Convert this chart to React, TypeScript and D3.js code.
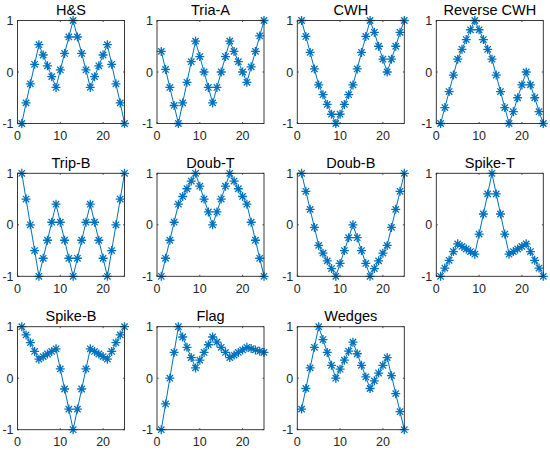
import React from "react";
import * as d3 from "d3";

const titles = ["H&S", "Tria-A", "CWH", "Reverse CWH", "Trip-B", "Doub-T", "Doub-B", "Spike-T", "Spike-B", "Flag", "Wedges"];

const hs = [-1, -0.6, -0.23, 0.15, 0.53, 0.33, 0.12, -0.09, -0.3, 0.04, 0.36, 0.68, 1, 0.68, 0.36, 0.04, -0.3, -0.09, 0.12, 0.33, 0.53, 0.15, -0.23, -0.6, -1];
const triaA = [0.4, 0.05, -0.3, -0.65, -1, -0.6, -0.2, 0.2, 0.6, 0.3, 0, -0.3, -0.6, -0.3, 0, 0.3, 0.6, 0.4, 0.2, 0, -0.2, 0.1, 0.4, 0.7, 1];
const cwh = [1, 0.69, 0.38, 0.06, -0.25, -0.44, -0.63, -0.82, -1, -0.82, -0.63, -0.44, -0.25, 0.06, 0.38, 0.69, 1, 0.77, 0.5, 0.25, 0, 0.25, 0.5, 0.77, 1];
const reverseCwh = [-1, -0.69, -0.38, -0.06, 0.25, 0.44, 0.63, 0.82, 1, 0.82, 0.63, 0.44, 0.25, -0.06, -0.38, -0.69, -1, -0.77, -0.5, -0.25, 0, -0.25, -0.5, -0.77, -1];
const tripB = [1, 0.5, 0, -0.5, -1, -0.65, -0.3, 0.05, 0.4, 0.05, -0.3, -0.65, -1, -0.65, -0.3, 0.05, 0.4, 0.05, -0.3, -0.65, -1, -0.5, 0, 0.5, 1];
const doubT = [-1, -0.65, -0.3, 0.05, 0.4, 0.55, 0.7, 0.85, 1, 0.75, 0.5, 0.25, 0, 0.25, 0.5, 0.75, 1, 0.85, 0.7, 0.55, 0.4, 0.05, -0.3, -0.65, -1];
const doubB = [1, 0.65, 0.3, -0.05, -0.4, -0.55, -0.7, -0.85, -1, -0.75, -0.5, -0.25, 0, -0.25, -0.5, -0.75, -1, -0.85, -0.7, -0.55, -0.4, -0.05, 0.3, 0.65, 1];
const spikeT = [-1, -0.84, -0.69, -0.52, -0.37, -0.42, -0.47, -0.52, -0.57, -0.18, 0.21, 0.6, 1, 0.6, 0.21, -0.18, -0.57, -0.52, -0.47, -0.42, -0.37, -0.52, -0.69, -0.84, -1];
const spikeB = [1, 0.84, 0.69, 0.52, 0.37, 0.42, 0.47, 0.52, 0.57, 0.18, -0.21, -0.6, -1, -0.6, -0.21, 0.18, 0.57, 0.52, 0.47, 0.42, 0.37, 0.52, 0.69, 0.84, 1];
const flag = [-1, -0.5, 0, 0.5, 1, 0.8, 0.6, 0.4, 0.2, 0.35, 0.5, 0.65, 0.8, 0.7, 0.6, 0.5, 0.4, 0.45, 0.5, 0.55, 0.6, 0.575, 0.55, 0.525, 0.5];
const wedges = [-0.6, -0.2, 0.2, 0.6, 1, 0.75, 0.5, 0.25, 0, 0.175, 0.35, 0.525, 0.7, 0.475, 0.25, 0.025, -0.2, -0.05, 0.1, 0.25, 0.4, 0.05, -0.3, -0.65, -1];

const series = [hs, triaA, cwh, reverseCwh, tripB, doubT, doubB, spikeT, spikeB, flag, wedges];

const xTicks = [0, 10, 20];
const yTicks = [-1, 0, 1];

const colLefts = [17.5, 157, 297.3, 436.3];
const rowTops = [20.5, 173.3, 326.7];
const PW = 107;
const PH = 103;
const BLUE = "#0072BD";
const AX = "#262626";
const FONT = "'Liberation Sans', Arial, Helvetica, sans-serif";

const markerPath = (r: number) => {
  const d = r * 0.7071;
  return `M${-r},0L${r},0M0,${-r}L0,${r}M${-d},${-d}L${d},${d}M${-d},${d}L${d},${-d}`;
};

function Panel({ idx }: { idx: number }) {
  const col = idx % 4;
  const row = Math.floor(idx / 4);
  const x0 = colLefts[col];
  const y0 = rowTops[row];
  const data = series[idx];
  const x = d3.scaleLinear().domain([0, 25]).range([0, PW]);
  const y = d3.scaleLinear().domain([-1, 1]).range([PH, 0]);
  const line = d3
    .line<number>()
    .x((_, i) => x(i + 1))
    .y((v) => y(v));
  const tl = 1.5;
  const mp = markerPath(4.5);
  return (
    <g transform={`translate(${x0},${y0})`}>
      <text x={PW / 2} y={-5.5} textAnchor="middle" fontSize={14.5} fontFamily={FONT} fill="#000">
        {titles[idx]}
      </text>
      {xTicks.map((t) => (
        <g key={"x" + t}>
          <line x1={x(t)} x2={x(t)} y1={PH} y2={PH - tl} stroke={AX} strokeWidth={0.8} />
          <line x1={x(t)} x2={x(t)} y1={0} y2={tl} stroke={AX} strokeWidth={0.8} />
          <text x={x(t)} y={PH + 16.7} textAnchor="middle" fontSize={12.5} fontFamily={FONT} fill={AX}>
            {t}
          </text>
        </g>
      ))}
      {yTicks.map((t) => (
        <g key={"y" + t}>
          <line x1={0} x2={tl} y1={y(t)} y2={y(t)} stroke={AX} strokeWidth={0.8} />
          <line x1={PW} x2={PW - tl} y1={y(t)} y2={y(t)} stroke={AX} strokeWidth={0.8} />
          <text x={-4} y={y(t)} dy="0.36em" textAnchor="end" fontSize={12.5} fontFamily={FONT} fill={AX}>
            {t}
          </text>
        </g>
      ))}
      <path d={line(data) || ""} fill="none" stroke={BLUE} strokeWidth={1} />
      {data.map((v, i) => (
        <path key={i} d={mp} transform={`translate(${x(i + 1)},${y(v)})`} stroke={BLUE} strokeWidth={1.3} fill="none" />
      ))}
      <rect x={0} y={0} width={PW} height={PH} fill="none" stroke={AX} strokeWidth={0.9} />
    </g>
  );
}

export default function App() {
  return (
    <svg
      width={550}
      height={450}
      style={{ position: "absolute", left: 0, top: 0, background: "#fff" }}
    >
      <rect width={550} height={450} fill="#fff" />
      {series.map((_, i) => (
        <Panel key={i} idx={i} />
      ))}
    </svg>
  );
}
